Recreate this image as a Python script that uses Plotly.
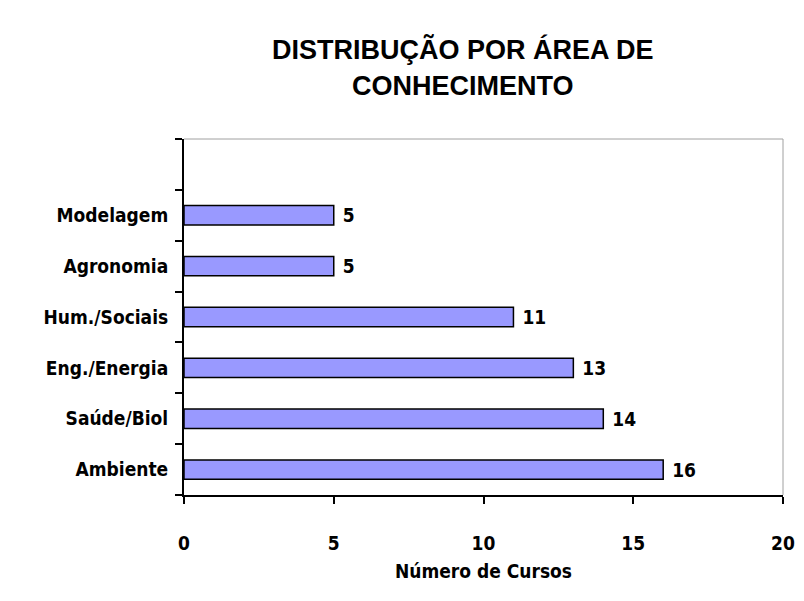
import plotly.graph_objects as go

categories = ["Ambiente", "Saúde/Biol", "Eng./Energia", "Hum./Sociais", "Agronomia", "Modelagem"]
values = [16, 14, 13, 11, 5, 5]
axis_order = categories + [" "]
x_ticks = [0, 5, 10, 15, 20]

FONT = "DejaVu Sans Condensed, Liberation Sans Narrow, Arial Narrow, sans-serif"

fig = go.Figure()
fig.add_trace(go.Bar(
    x=values, y=categories, orientation="h",
    marker=dict(color="#9999FF", line=dict(color="black", width=1.5)),
    width=0.38,
    text=[f"<b>\u00a0{v}</b>" for v in values], textposition="outside",
    constraintext="none",
    textfont=dict(family=FONT, size=19, color="black"),
    cliponaxis=False,
))

fig.update_layout(
    width=788, height=585,
    paper_bgcolor="white", plot_bgcolor="white",
    margin=dict(l=176, r=13, t=131, b=98),
    showlegend=False,
    font=dict(family=FONT, color="black"),
    title=dict(
        text="<b>DISTRIBUÇÃO POR ÁREA DE<br>CONHECIMENTO</b>",
        x=0.577, xanchor="center", y=0.912, yanchor="top",
        font=dict(family="Liberation Sans, Arial, sans-serif", size=27, color="black"),
    ),
    xaxis=dict(
        range=[0, 20], tickvals=x_ticks, ticktext=[f"<b>{t}</b>" for t in x_ticks],
        showgrid=False, zeroline=False, automargin=False,
        showline=True, linecolor="black", linewidth=2,
        ticks="outside", ticklen=7, tickwidth=2, tickcolor="black",
        ticklabelstandoff=23, ticklabeloverflow="allow",
        tickfont=dict(family=FONT, size=19, color="black"),
        title=dict(text="<b>Número de Cursos</b>", font=dict(family=FONT, size=19, color="black"), standoff=12),
    ),
    yaxis=dict(
        type="category", categoryorder="array", categoryarray=axis_order,
        tickmode="array", tickvals=axis_order, ticktext=[f"<b>{c}</b>" if c.strip() else "" for c in axis_order],
        range=[-0.5, 6.5], automargin=False,
        showgrid=False, zeroline=False,
        showline=True, linecolor="black", linewidth=2,
        ticks="outside", ticklen=7, tickwidth=2, tickcolor="black", tickson="boundaries",
        ticklabelstandoff=10,
        tickfont=dict(family=FONT, size=19, color="black"),
    ),
    shapes=[
        dict(type="line", xref="paper", yref="paper", x0=0, x1=1, y0=1, y1=1,
             line=dict(color="#A0A0A0", width=1)),
        dict(type="line", xref="paper", yref="paper", x0=1, x1=1, y0=0, y1=1,
             line=dict(color="#A0A0A0", width=1)),
    ],
)

fig.write_html("out.html")
